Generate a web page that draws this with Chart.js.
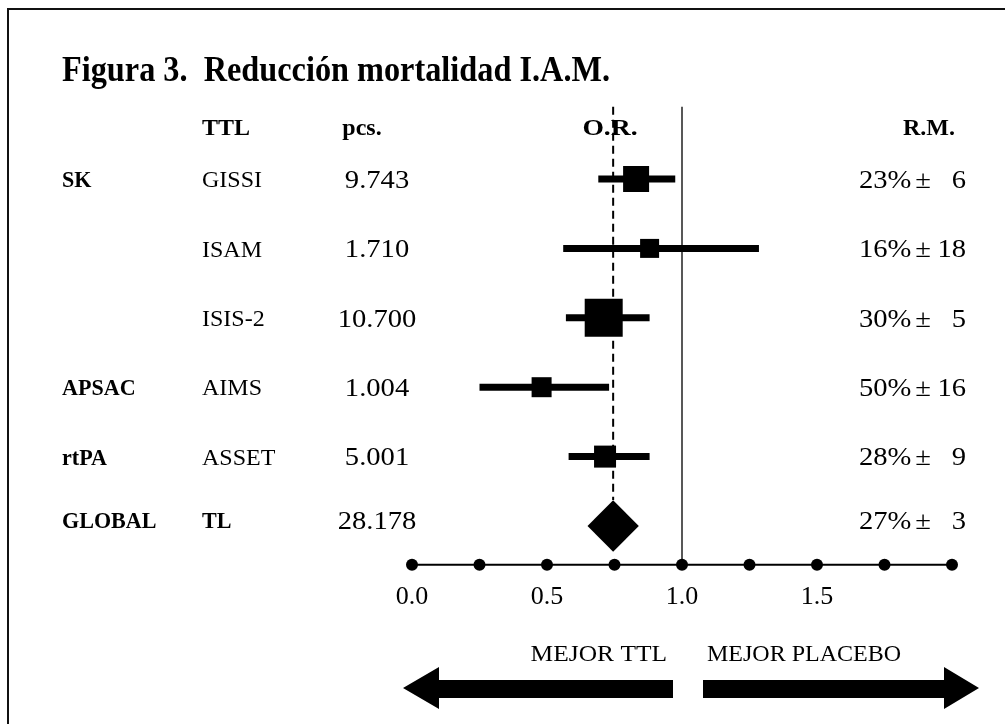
<!DOCTYPE html>
<html><head><meta charset="utf-8">
<script src="https://cdn.jsdelivr.net/npm/chart.js@4"></script>
<style>html,body{margin:0;padding:0;background:#fff;}#wrap{width:1005px;height:724px;position:relative;}</style>
</head><body><div id="wrap"><canvas id="c" width="1005" height="724"></canvas></div>
<script>
// ---- data ----
const titleText = 'Figura 3.  Reducción mortalidad I.A.M.';
const headers = ['TTL', 'pcs.', 'O.R.', 'R.M.'];
const groups = ['SK', '', '', 'APSAC', 'rtPA', 'GLOBAL'];
const trials = ['GISSI', 'ISAM', 'ISIS-2', 'AIMS', 'ASSET', 'TL'];
const patients = ['9.743', '1.710', '10.700', '1.004', '5.001', '28.178'];
const oddsRatio = [0.83, 0.88, 0.71, 0.48, 0.715];
const ciLow = [0.69, 0.56, 0.57, 0.25, 0.58];
const ciHigh = [0.975, 1.285, 0.88, 0.73, 0.88];
const globalOR = 0.745;
const globalLow = 0.65;
const globalHigh = 0.84;
const rmPct = ['23%', '16%', '30%', '50%', '28%', '27%'];
const rmErr = ['6', '18', '5', '16', '9', '3'];
const axisTicks = [0, 0.25, 0.5, 0.75, 1, 1.25, 1.5, 1.75, 2];
const tickLabelValues = [0, 0.5, 1, 1.5];
const tickLabels = ['0.0', '0.5', '1.0', '1.5'];
const arrowLabels = ['MEJOR TTL', 'MEJOR PLACEBO'];

// ---- style / layout ----
const squareSides = [26, 19, 38, 20, 22];
const AXIS_ROW = 5.56;
const LINE_TOP_ROW = -1.04;
const DIAMOND_HALF_ROW = 0.375;
const SERIF = '"Liberation Serif", "Times New Roman", serif';

const rows = trials.map((t, i) => i);
const datasets = [];
// CI lines
oddsRatio.forEach((v, i) => {
  datasets.push({ type: 'line', data: [{x: ciLow[i], y: rows[i]}, {x: ciHigh[i], y: rows[i]}],
    borderColor: '#000', borderWidth: 7, pointRadius: 0, borderCapStyle: 'butt', clip: false, order: 3 });
});
// squares
datasets.push({ type: 'scatter', data: oddsRatio.map((v, i) => ({x: v, y: rows[i]})),
  pointStyle: 'rect', pointRadius: squareSides.map(s => s / Math.SQRT2), backgroundColor: '#000', borderColor: '#000', borderWidth: 0, clip: false, order: 1 });
// global diamond
datasets.push({ type: 'scatter', data: [{x: globalOR, y: 5}],
  pointStyle: 'rectRot', pointRadius: (ctx) => { const s = ctx.chart.scales.x; return (s.getPixelForValue(globalHigh) - s.getPixelForValue(globalLow)) / 2; },
  backgroundColor: '#000', borderWidth: 0, clip: false, order: 1 });
// axis line
datasets.push({ type: 'line', data: [{x: axisTicks[0], y: AXIS_ROW}, {x: axisTicks[axisTicks.length - 1], y: AXIS_ROW}],
  borderColor: '#000', borderWidth: 2, pointRadius: 0, clip: false, order: 4 });
// axis dots
datasets.push({ type: 'scatter', data: axisTicks.map(t => ({x: t, y: AXIS_ROW})),
  pointStyle: 'circle', pointRadius: 6, backgroundColor: '#000', borderWidth: 0, clip: false, order: 2 });
// reference line at 1.0
datasets.push({ type: 'line', data: [{x: 1, y: LINE_TOP_ROW}, {x: 1, y: AXIS_ROW}],
  borderColor: '#222', borderWidth: 1.5, pointRadius: 0, clip: false, order: 5 });
// dashed line at global OR
datasets.push({ type: 'line', data: [{x: globalOR, y: LINE_TOP_ROW}, {x: globalOR, y: 5 - DIAMOND_HALF_ROW}],
  borderColor: '#000', borderWidth: 2, borderDash: [8, 5], pointRadius: 0, clip: false, order: 5 });

function txt(ctx, s, x, y, font, align, sx) {
  ctx.save();
  ctx.font = font;
  ctx.textBaseline = 'middle';
  ctx.fillStyle = '#000';
  const w = ctx.measureText(s).width * (sx || 1);
  let left = x;
  if (align === 'center') left = x - w / 2;
  else if (align === 'right') left = x - w;
  ctx.translate(left, y);
  ctx.scale(sx || 1, 1);
  ctx.textAlign = 'left';
  ctx.fillText(s, 0, 0);
  ctx.restore();
}

const decor = {
  id: 'decor',
  afterDraw(chart) {
    const ctx = chart.ctx, xs = chart.scales.x, ys = chart.scales.y;
    // frame
    ctx.save();
    ctx.strokeStyle = '#111'; ctx.lineWidth = 2;
    ctx.beginPath(); ctx.moveTo(8, 724); ctx.lineTo(8, 9); ctx.lineTo(1005, 9); ctx.stroke();
    ctx.restore();
    // title
    ctx.save();
    ctx.font = 'bold 35px ' + SERIF;
    const tw = ctx.measureText(titleText).width;
    ctx.restore();
    txt(ctx, titleText, 62, 72, 'bold 35px ' + SERIF, 'left', 548 / tw);
    // headers
    const hy = ys.getPixelForValue(-0.72);
    const BOLD = 'bold 24px ' + SERIF;
    txt(ctx, headers[0], 202, hy, BOLD, 'left', 1);
    txt(ctx, headers[1], 362, hy, BOLD, 'center', 1);
    txt(ctx, headers[2], 610, hy, BOLD, 'center', 1.15);
    txt(ctx, headers[3], 929, hy, BOLD, 'center', 1);
    // rows
    const REG = '24px ' + SERIF;
    const NUM = '26px ' + SERIF;
    rows.forEach((r, i) => {
      const y = ys.getPixelForValue(r) + (i === 5 ? -4 : 2);
      if (groups[i]) txt(ctx, groups[i], 62, y, BOLD, 'left', 0.92);
      txt(ctx, trials[i], 202, y, i === 5 ? BOLD : REG, 'left', i === 5 ? 0.92 : 1);
      txt(ctx, patients[i], 377, y, NUM, 'center', 1.1);
      txt(ctx, rmPct[i], 859, y, NUM, 'left', 1.1);
      txt(ctx, '±', 923, y, NUM, 'center', 1.1);
      txt(ctx, rmErr[i], 966, y, NUM, 'right', 1.1);
    });
    // tick labels
    tickLabelValues.forEach((v, i) => {
      txt(ctx, tickLabels[i], xs.getPixelForValue(v), 597, '26px ' + SERIF, 'center', 1);
    });
    // arrows
    ctx.save();
    ctx.fillStyle = '#000';
    ctx.beginPath();
    ctx.moveTo(403, 688); ctx.lineTo(439, 667); ctx.lineTo(439, 680); ctx.lineTo(673, 680);
    ctx.lineTo(673, 698); ctx.lineTo(439, 698); ctx.lineTo(439, 709); ctx.closePath(); ctx.fill();
    ctx.beginPath();
    ctx.moveTo(979, 688); ctx.lineTo(944, 667); ctx.lineTo(944, 680); ctx.lineTo(703, 680);
    ctx.lineTo(703, 698); ctx.lineTo(944, 698); ctx.lineTo(944, 709); ctx.closePath(); ctx.fill();
    ctx.restore();
    txt(ctx, arrowLabels[0], 667, 655, '24px ' + SERIF, 'right', 1.06);
    txt(ctx, arrowLabels[1], 707, 655, '24px ' + SERIF, 'left', 1);
  }
};

new Chart(document.getElementById('c'), {
  data: { datasets },
  options: {
    responsive: false, animation: false, devicePixelRatio: 1,
    layout: { padding: { left: 412, right: 53, top: 109.6, bottom: 59.2 } },
    plugins: { legend: { display: false }, tooltip: { enabled: false }, title: { display: false } },
    scales: {
      x: { type: 'linear', min: 0, max: 2, display: false },
      y: { type: 'linear', min: -1, max: 7, reverse: true, display: false }
    }
  },
  plugins: [decor]
});
</script>
</body></html>
